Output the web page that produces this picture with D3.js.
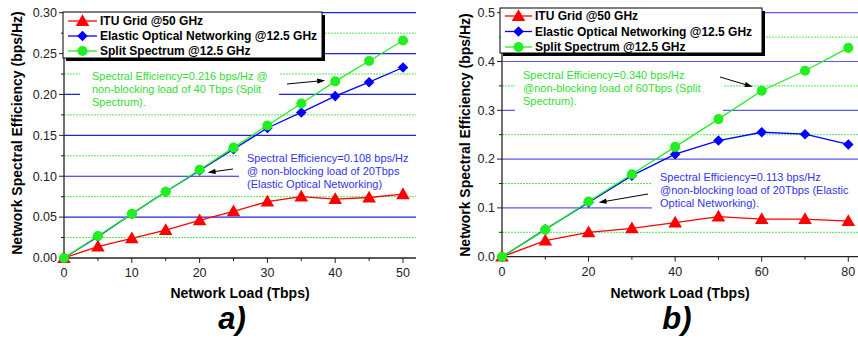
<!DOCTYPE html>
<html>
<head>
<meta charset="utf-8">
<script src="https://cdn.jsdelivr.net/npm/d3@7"></script>
<style>
  body { margin: 0; background: #fff; }
  text { font-family: Arial, "Liberation Sans", sans-serif; }
</style>
</head>
<body>
<script>
// panel a) data
const loadA = [0, 5, 10, 15, 20, 25, 30, 35, 40, 45, 50];
const ituA = [0, 0.014, 0.024, 0.034, 0.046, 0.057, 0.069, 0.075, 0.072, 0.074, 0.078];
const eonA = [0, 0.026, 0.054, 0.081, 0.107, 0.133, 0.159, 0.178, 0.198, 0.215, 0.233];
const splitA = [0, 0.027, 0.054, 0.081, 0.108, 0.135, 0.162, 0.189, 0.216, 0.241, 0.266];
const xTicksA = [0, 10, 20, 30, 40, 50];
const yTicksA = [0, 0.05, 0.10, 0.15, 0.20, 0.25, 0.30];

// panel b) data
const loadB = [0, 10, 20, 30, 40, 50, 60, 70, 80];
const ituB = [0, 0.033, 0.050, 0.058, 0.070, 0.082, 0.077, 0.077, 0.073];
const eonB = [0, 0.056, 0.111, 0.166, 0.210, 0.238, 0.255, 0.251, 0.230];
const splitB = [0, 0.055, 0.113, 0.169, 0.225, 0.282, 0.340, 0.381, 0.428];
const xTicksB = [0, 20, 40, 60, 80];
const yTicksB = [0, 0.1, 0.2, 0.3, 0.4, 0.5];

const seriesNames = ["ITU Grid @50 GHz", "Elastic Optical Networking @12.5 GHz", "Split Spectrum @12.5 GHz"];
const seriesColors = ["#ff0000", "#0000ff", "#22ee22"];

// marker: triangle, square turned 45deg, circle
const markers = [
  { type: d3.symbolTriangle, size: 80, rot: 0, dy: 1 },
  { type: d3.symbolSquare, size: 56, rot: 45, dy: 0 },
  { type: d3.symbolCircle, size: 80, rot: 0, dy: 0 }
];

const svg = d3.select("body").append("svg")
  .attr("width", 858)
  .attr("height", 345);

function addMarker(g, i, cx, cy) {
  const m = markers[i];
  g.append("path")
    .attr("transform", `translate(${cx},${cy + m.dy}) rotate(${m.rot})`)
    .attr("d", d3.symbol().type(m.type).size(m.size))
    .attr("fill", seriesColors[i]);
}

function drawPanel(p) {
  const x = d3.scaleLinear().domain([0, p.xTicks[p.xTicks.length - 1]]).range(p.xRange);
  const y = d3.scaleLinear().domain([0, p.yTicks[p.yTicks.length - 1]]).range(p.yRange);
  const xEnd = p.xEnd;
  const xStep = p.xTicks[1] - p.xTicks[0];
  const yStep = p.yTicks[1] - p.yTicks[0];
  const xMinor = p.xTicks.slice(0, -1).map(v => v + xStep / 2).concat([p.xTicks[p.xTicks.length - 1] + xStep / 2].filter(v => x(v) < xEnd));
  const yMinor = p.yTicks.slice(0, -1).map(v => v + yStep / 2);

  const g = svg.append("g");

  // grid
  g.selectAll(".minor").data(yMinor).enter().append("line")
    .attr("x1", x(0)).attr("x2", xEnd)
    .attr("y1", d => y(d)).attr("y2", d => y(d))
    .attr("stroke", "#55e655").attr("stroke-width", 1).attr("stroke-dasharray", "2,1");
  g.selectAll(".major").data(p.yTicks.slice(1)).enter().append("line")
    .attr("x1", x(0)).attr("x2", xEnd)
    .attr("y1", d => y(d)).attr("y2", d => y(d))
    .attr("stroke", p.gridColor).attr("stroke-width", 1.2);

  // white boxes behind annotations
  p.notes.forEach(n => {
    g.append("rect")
      .attr("x", n.box[0]).attr("y", n.box[1])
      .attr("width", n.box[2] - n.box[0]).attr("height", n.box[3] - n.box[1])
      .attr("fill", "#fff");
  });

  // axes
  g.append("line").attr("x1", x(0)).attr("x2", xEnd).attr("y1", y(0)).attr("y2", y(0))
    .attr("stroke", "#222").attr("stroke-width", 1.3);
  g.append("line").attr("x1", x(0)).attr("x2", x(0)).attr("y1", y(0)).attr("y2", p.yRange[1])
    .attr("stroke", "#222").attr("stroke-width", 1.3);

  g.selectAll(".xt").data(p.xTicks).enter().append("line")
    .attr("x1", d => x(d)).attr("x2", d => x(d)).attr("y1", y(0)).attr("y2", y(0) + 5)
    .attr("stroke", "#222");
  g.selectAll(".xm").data(xMinor).enter().append("line")
    .attr("x1", d => x(d)).attr("x2", d => x(d)).attr("y1", y(0)).attr("y2", y(0) + 3)
    .attr("stroke", "#222");
  g.selectAll(".yt").data(p.yTicks).enter().append("line")
    .attr("x1", x(0) - 5).attr("x2", x(0)).attr("y1", d => y(d)).attr("y2", d => y(d))
    .attr("stroke", "#222");
  g.selectAll(".ym").data(yMinor).enter().append("line")
    .attr("x1", x(0) - 3).attr("x2", x(0)).attr("y1", d => y(d)).attr("y2", d => y(d))
    .attr("stroke", "#222");

  g.selectAll(".xl").data(p.xTicks).enter().append("text")
    .attr("x", d => x(d)).attr("y", y(0) + 19)
    .attr("text-anchor", "middle").attr("font-size", 12.5).attr("fill", "#222")
    .text(d => d);
  g.selectAll(".yl").data(p.yTicks).enter().append("text")
    .attr("x", x(0) - 7).attr("y", d => y(d)).attr("dy", "0.35em")
    .attr("text-anchor", "end").attr("font-size", 12.5).attr("fill", "#222")
    .text(d => d3.format(p.yFormat)(d));

  // titles
  g.append("text")
    .attr("x", p.xTitle[0]).attr("y", p.xTitle[1])
    .attr("text-anchor", "middle").attr("font-size", 14).attr("font-weight", "bold")
    .text("Network Load (Tbps)");
  g.append("text")
    .attr("transform", `translate(${p.yTitle[0]},${p.yTitle[1]}) rotate(-90)`)
    .attr("text-anchor", "middle").attr("dy", "0.35em")
    .attr("font-size", 14).attr("font-weight", "bold")
    .text("Network Spectral Efficiency (bps/Hz)");
  g.append("text")
    .attr("x", p.label[0]).attr("y", p.label[1])
    .attr("text-anchor", "middle").attr("font-size", 31)
    .attr("font-weight", "bold").attr("font-style", "italic")
    .text(p.labelText);

  // series
  const line = d3.line().x(d => x(d[0])).y(d => y(d[1]));
  p.series.forEach((vals, i) => {
    const pts = p.load.map((l, j) => [l, vals[j]]);
    g.append("path").datum(pts).attr("d", line)
      .attr("fill", "none").attr("stroke", seriesColors[i]).attr("stroke-width", 1.3);
    pts.forEach(d => addMarker(g, i, x(d[0]), y(d[1])));
  });

  // annotations
  p.notes.forEach(n => {
    n.lines.forEach((t, k) => {
      g.append("text")
        .attr("x", n.x).attr("y", n.y + k * 13.2)
        .attr("font-size", 11).attr("fill", n.color)
        .text(t);
    });
    const tx = x(p.load[n.target]) + n.head[0];
    const ty = y(p.series[n.series][n.target]) + n.head[1];
    const ang = Math.atan2(ty - n.tail[1], tx - n.tail[0]);
    g.append("line")
      .attr("x1", n.tail[0]).attr("y1", n.tail[1])
      .attr("x2", tx - 6 * Math.cos(ang)).attr("y2", ty - 6 * Math.sin(ang))
      .attr("stroke", "#000").attr("stroke-width", 1);
    g.append("path")
      .attr("transform", `translate(${tx},${ty}) rotate(${ang * 180 / Math.PI})`)
      .attr("d", "M0,0L-8,-2.6L-8,2.6Z")
      .attr("fill", "#000");
  });

  // legend
  const L = p.legend;
  g.append("rect").attr("x", L.x + 3).attr("y", L.y + 3).attr("width", L.w).attr("height", L.h).attr("fill", "#000");
  g.append("rect").attr("x", L.x).attr("y", L.y).attr("width", L.w).attr("height", L.h)
    .attr("fill", "#fff").attr("stroke", "#000").attr("stroke-width", 1);
  seriesNames.forEach((name, i) => {
    const cy = L.y + L.row0 + i * L.rowStep;
    g.append("line").attr("x1", L.x + 5).attr("x2", L.x + 5 + L.sw).attr("y1", cy).attr("y2", cy)
      .attr("stroke", seriesColors[i]).attr("stroke-width", 1.3);
    addMarker(g, i, L.x + 5 + L.sw / 2, cy);
    g.append("text")
      .attr("x", L.x + 8 + L.sw).attr("y", cy).attr("dy", "0.36em")
      .attr("font-size", 12).attr("font-weight", "bold")
      .text(name);
  });
}

drawPanel({
  load: loadA, series: [ituA, eonA, splitA],
  xTicks: xTicksA, yTicks: yTicksA, yFormat: ".2f",
  xRange: [64, 403], yRange: [258, 12.7], xEnd: 416,
  gridColor: "#2222dd",
  xTitle: [240, 298], yTitle: [17, 133],
  label: [232, 329], labelText: "a)",
  legend: { x: 63, y: 12, w: 259, h: 46, row0: 9, rowStep: 15, sw: 29 },
  notes: [
    { lines: ["Spectral Efficiency=0.216 bps/Hz @", "non-blocking load of 40 Tbps (Split", "Spectrum)."],
      color: "#33dd33", x: 92, y: 80, box: [80, 64, 279, 108],
      tail: [287, 84], series: 2, target: 8, head: [-10, -1] },
    { lines: ["Spectral Efficiency=0.108 bps/Hz", "@ non-blocking load of 20Tbps", "(Elastic Optical Networking)"],
      color: "#3333ee", x: 247, y: 162, box: [239, 148, 416, 192],
      tail: [233, 169], series: 1, target: 4, head: [8, 2] }
  ]
});

drawPanel({
  load: loadB, series: [ituB, eonB, splitB],
  xTicks: xTicksB, yTicks: yTicksB, yFormat: ".1f",
  xRange: [502, 848.3], yRange: [256.7, 12.7], xEnd: 858,
  gridColor: "#5a5aee",
  xTitle: [680, 298], yTitle: [465, 135],
  label: [677, 329], labelText: "b)",
  legend: { x: 500, y: 8, w: 262, h: 45, row0: 8, rowStep: 15.5, sw: 27 },
  notes: [
    { lines: ["Spectral Efficiency=0.340 bps/Hz", "@non-blocking load of 60Tbps (Split", "Spectrum)."],
      color: "#33dd33", x: 523, y: 79, box: [515, 66, 723, 114],
      tail: [720, 77], series: 2, target: 6, head: [-9, -4] },
    { lines: ["Spectral Efficiency=0.113 bps/Hz", "@non-blocking load of 20Tbps (Elastic", "Optical Networking)."],
      color: "#3333ee", x: 660, y: 181, box: [652, 165, 858, 215],
      tail: [648, 194], series: 1, target: 2, head: [10, 0] }
  ]
});
</script>
</body>
</html>
